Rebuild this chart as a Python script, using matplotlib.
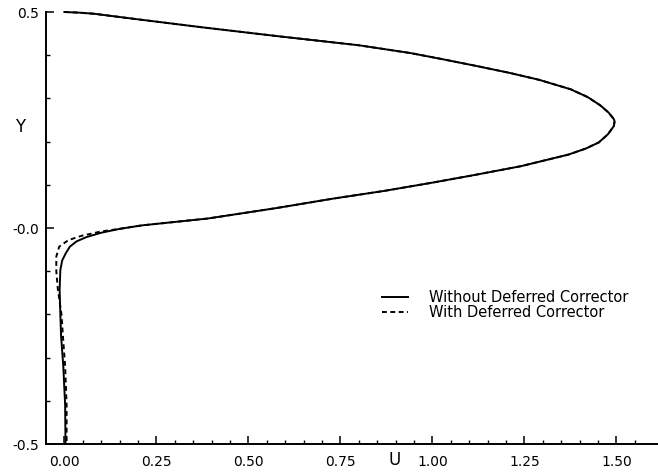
import numpy as np
import matplotlib
matplotlib.use('Agg')
import matplotlib.pyplot as plt
from matplotlib.ticker import FixedLocator

# U profile from the upper wall (Y=0.5) down to the step edge, same for both runs
upper_u = [0.00, 0.04, 0.08, 0.14, 0.20, 0.37, 0.58, 0.80, 0.94, 1.02, 1.12, 1.21,
           1.29, 1.376, 1.422, 1.456, 1.479, 1.493, 1.495, 1.493, 1.477, 1.452, 1.417,
           1.370, 1.24, 1.11, 1.00, 0.87, 0.73, 0.575, 0.39, 0.30, 0.21]
upper_y = [0.500, 0.4985, 0.496, 0.4895, 0.483, 0.465, 0.444, 0.423, 0.405, 0.392,
           0.375, 0.359, 0.343, 0.321, 0.303, 0.284, 0.267, 0.252, 0.247, 0.236, 0.217,
           0.198, 0.184, 0.170, 0.143, 0.122, 0.105, 0.086, 0.068, 0.046, 0.022, 0.014,
           0.006]

# recirculation zone below the step
without_u = [0.15, 0.10, 0.06, 0.033, 0.015, 0.004, -0.006, -0.011, -0.013, -0.011,
             -0.009, -0.003, 0.002, 0.003]
without_y = [-0.002, -0.011, -0.021, -0.031, -0.043, -0.058, -0.075, -0.097, -0.143,
             -0.200, -0.250, -0.320, -0.410, -0.500]

with_u = [0.15, 0.10, 0.047, 0.011, -0.014, -0.022, -0.022, -0.018, -0.008, -0.004,
          0.002, 0.006, 0.006]
with_y = [-0.002, -0.008, -0.018, -0.028, -0.043, -0.066, -0.100, -0.140, -0.200,
          -0.250, -0.320, -0.410, -0.500]

labels = ['Without Deferred Corrector', 'With Deferred Corrector']
u_ticks = [0.0, 0.25, 0.5, 0.75, 1.0, 1.25, 1.5]
u_ticklabels = ['0.00', '0.25', '0.50', '0.75', '1.00', '1.25', '1.50']
y_ticks = [-0.5, 0.0, 0.5]
y_ticklabels = ['-0.5', '-0.0', '0.5']

plt.rcParams['font.family'] = 'DejaVu Sans'

fig = plt.figure(figsize=(6.58, 4.74), dpi=100)
ax = fig.add_axes([46/658, 30/474, 612/658, 432/474])

ax.plot(upper_u + without_u, upper_y + without_y, color='black', lw=1.4,
        label=labels[0], clip_on=False)
ax.plot(upper_u + with_u, upper_y + with_y, color='black', lw=1.4,
        ls=(0, (2.5, 1.8)), label=labels[1], clip_on=False)

ax.set_xlim(-0.05, 1.613)
ax.set_ylim(-0.5, 0.5)

ax.spines['top'].set_visible(False)
ax.spines['right'].set_visible(False)
ax.spines['left'].set_linewidth(1.4)
ax.spines['bottom'].set_linewidth(1.4)

ax.set_xticks(u_ticks, u_ticklabels)
ax.set_yticks(y_ticks, y_ticklabels)
ax.xaxis.set_minor_locator(FixedLocator([t for t in np.arange(0.05, 1.6, 0.05)
                                         if abs(t / 0.25 - round(t / 0.25)) > 1e-6]))
ax.yaxis.set_minor_locator(FixedLocator([-0.4, -0.3, -0.2, -0.1, 0.1, 0.2, 0.3, 0.4]))
ax.tick_params(which='major', direction='in', length=6, width=1.1, labelsize=10)
ax.tick_params(which='minor', direction='in', length=3, width=1.0)
ax.tick_params(axis='x', pad=8)
ax.tick_params(axis='y', pad=5)

ax.set_xlabel('U', fontsize=12, va='center')
ax.xaxis.set_label_coords((395 - 46) / 612, (444 - 460) / 432)
ax.set_ylabel('Y', fontsize=12, rotation=0, va='center', ha='center')
ax.yaxis.set_label_coords((20 - 46) / 612, (444 - 127) / 432)

ax.legend(loc='upper left', bbox_to_anchor=(382/658, 1 - 290/474),
          bbox_transform=fig.transFigure, frameon=False, fontsize=10.5,
          borderpad=0, borderaxespad=0, handlelength=1.8, handletextpad=1.4,
          labelspacing=0.0)

fig.savefig('out.png', dpi=100)
